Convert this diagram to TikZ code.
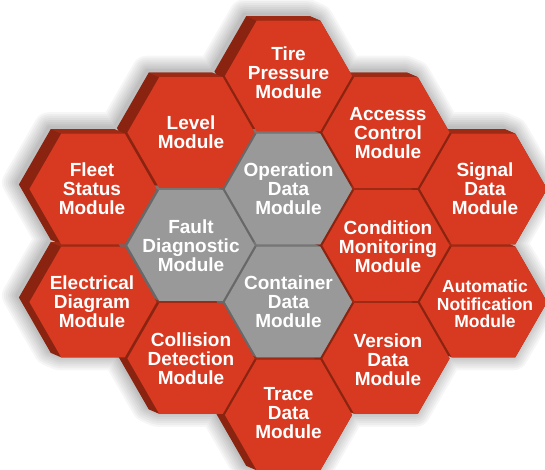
\documentclass[tikz,border=0pt]{standalone}
\usepackage{fontspec}
\setmainfont{Liberation Sans}
\definecolor{hexred}{RGB}{216,57,33}
\definecolor{hexredside}{RGB}{138,36,16}
\definecolor{hexredtop}{RGB}{158,42,20}
\definecolor{hexgray}{RGB}{152,153,152}
\definecolor{hexgrayside}{RGB}{104,104,104}
\definecolor{hexgraytop}{RGB}{118,118,118}
\def\RR{63.6}\def\AA{31.8}\def\HH{55.3}
\def\DX{-10.5}\def\DY{-4.5}
\def\hullpath#1#2{(#1+\RR,#2) -- (#1+\AA,#2-\HH) -- (#1+\AA+\DX,#2-\HH+\DY) -- (#1-\AA+\DX,#2-\HH+\DY) -- (#1-\RR+\DX,#2+\DY) -- (#1-\AA+\DX,#2+\HH+\DY) -- (#1-\AA,#2+\HH) -- (#1+\AA,#2+\HH) -- cycle}
\def\toppath#1#2{(#1+\AA,#2-\HH) -- (#1-\AA,#2-\HH) -- (#1-\AA+\DX,#2-\HH+\DY) -- (#1+\AA+\DX,#2-\HH+\DY) -- cycle}
\def\facepath#1#2{(#1+\RR,#2) -- (#1+\AA,#2-\HH) -- (#1-\AA,#2-\HH) -- (#1-\RR,#2) -- (#1-\AA,#2+\HH) -- (#1+\AA,#2+\HH) -- cycle}
\tikzset{
  label/.style={text=white, font=\bfseries\fontsize{19}{19}\selectfont, align=center, inner sep=0pt},
  smalllabel/.style={label, font=\bfseries\fontsize{17.5}{17.5}\selectfont}
}
\begin{document}
\begin{tikzpicture}[x=1pt,y=-1pt]
\useasboundingbox (0,0) rectangle (545,470);
% soft drop shadow
\foreach \w in {30,26,22,18,14,10,6,3}{
  \begin{scope}[transparency group, opacity=0.035, shift={(-2,-2)}]
    \foreach \cx/\cy in {288.5/76,288.5/189,288.5/302,288.5/415,191/132.5,191/245.5,191/358.5,93/189,93/302,386/132.5,386/245.5,386/358.5,483.5/189,483.5/302}{
      \filldraw[black, line width=\w pt, line join=round] \hullpath{\cx}{\cy};
    }
  \end{scope}
}
% extrusions (red)
\foreach \cx/\cy in {288.5/76,288.5/415,191/132.5,191/358.5,93/189,93/302,386/132.5,386/245.5,386/358.5,483.5/189,483.5/302}{
  \fill[hexredside] \hullpath{\cx}{\cy};
  \fill[hexredtop] \toppath{\cx}{\cy};
}
% extrusions (gray)
\foreach \cx/\cy in {288.5/189,288.5/302,191/245.5}{
  \fill[hexgrayside] \hullpath{\cx}{\cy};
  \fill[hexgraytop] \toppath{\cx}{\cy};
}
% faces
\foreach \cx/\cy in {288.5/76,288.5/415,191/132.5,191/358.5,93/189,93/302,386/132.5,386/245.5,386/358.5,483.5/189,483.5/302}{
  \fill[hexred] \facepath{\cx}{\cy};
}
\foreach \cx/\cy in {288.5/189,288.5/302,191/245.5}{
  \fill[hexgray] \facepath{\cx}{\cy};
}
% labels
\node[label] (tire) at (288.5,73) {Tire\\Pressure\\Module};
\node[label] (oper) at (288.5,189) {Operation\\Data\\Module};
\node[label] (cont) at (288.5,302) {Container\\Data\\Module};
\node[label] (trace) at (288.5,413) {Trace\\Data\\Module};
\node[label] (level) at (191,132) {Level\\Module};
\node[label] (fault) at (191,245.5) {Fault\\Diagnostic\\Module};
\node[label] (coll) at (191,359) {Collision\\Detection\\Module};
\node[label] (fleet) at (92,189) {Fleet\\Status\\Module};
\node[label] (elec) at (92,302) {Electrical\\Diagram\\Module};
\node[label] (access) at (388,133) {Accesss\\Control\\Module};
\node[label] (cond) at (388,247) {Condition\\Monitoring\\Module};
\node[label] (vers) at (388,360) {Version\\Data\\Module};
\node[label] (signal) at (485,189) {Signal\\Data\\Module};
\node[smalllabel] (auto) at (485,304) {Automatic\\Notification\\Module};
\end{tikzpicture}
\end{document}
